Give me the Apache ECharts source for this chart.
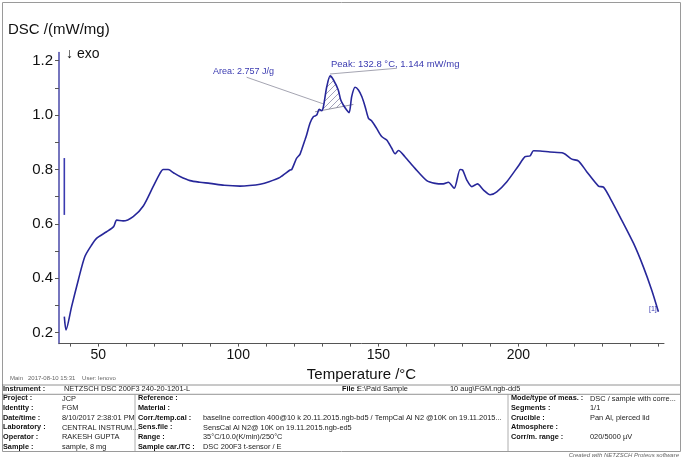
<!DOCTYPE html>
<html><head><meta charset="utf-8">
<script src="https://cdn.jsdelivr.net/npm/echarts@6/dist/echarts.min.js"></script>
<style>html,body{margin:0;padding:0;background:#fff}#c{width:683px;height:461px}</style>
</head><body><div id="c"></div>
<script>
// ---- data ----
const temperature = [37.9,38.5,40.5,42.9,45.2,47.5,49.4,53.0,55.5,56.6,58.9,62.5,66.1,69.6,72.0,73.2,75.0,77.0,79.2,82.8,86.3,89.9,95.0,100.6,104.0,107.8,111.0,114.9,118.5,119.1,120.3,120.8,122.0,122.6,123.8,124.4,125.6,126.8,128.0,128.9,129.8,130.4,131.6,132.8,134.0,135.7,136.6,137.5,138.7,139.6,140.5,141.7,142.9,144.1,145.3,146.5,147.6,149.4,151.2,153.0,154.8,156.0,157.2,159.5,163.1,167.3,170.3,173.2,175.0,177.1,179.2,180.1,181.6,183.4,185.4,187.5,189.9,192.3,195.9,200.0,202.4,204.2,205.4,207.8,211.3,216.1,219.1,221.5,224.4,228.6,230.4,232.8,236.3,241.1,244.6,247.6,250.0];
const dsc = [0.259,0.210,0.296,0.394,0.479,0.520,0.547,0.571,0.590,0.614,0.611,0.627,0.666,0.737,0.785,0.800,0.800,0.787,0.774,0.759,0.753,0.749,0.742,0.739,0.741,0.746,0.755,0.771,0.798,0.800,0.829,0.841,0.855,0.872,0.908,0.927,0.970,0.994,1.000,1.021,1.016,1.031,1.104,1.144,1.129,1.092,1.055,1.037,1.019,1.009,1.068,1.102,1.092,1.068,1.031,0.988,0.979,0.951,0.921,0.908,0.878,0.858,0.870,0.847,0.804,0.759,0.749,0.747,0.753,0.731,0.800,0.798,0.761,0.737,0.747,0.725,0.707,0.718,0.755,0.813,0.847,0.850,0.869,0.868,0.864,0.860,0.838,0.831,0.792,0.739,0.735,0.694,0.626,0.529,0.443,0.357,0.277];
const xTickLabels = [50,100,150,200];
const xMinorTicks = [40,50,60,70,80,90,100,110,120,130,140,150,160,170,180,190,200,210,220,230,240,250];
const yTickLabels = [0.2,0.4,0.6,0.8,1.0,1.2];
const yMinorTicks = [0.2,0.3,0.4,0.5,0.6,0.7,0.8,0.9,1.0,1.1,1.2];
const hatchRange = [130.1, 138.2];
const hatchBaseline = [[127.4,1.012],[141.1,1.039]];
const areaLeader = [[103.0,1.139],[130.4,1.041]];
const peakLeader = [[132.75,1.151],[156.6,1.172]];
const scaleBar = [[37.9,0.842],[37.9,0.633]];
const areaText = 'Area: 2.757 J/g';
const peakText = 'Peak: 132.8 °C, 1.144 mW/mg';

const curve = temperature.map((t,i)=>[t,dsc[i]]);

// hatch pattern
const pc = document.createElement('canvas'); pc.width = 6; pc.height = 6;
const pctx = pc.getContext('2d');
pctx.strokeStyle = '#8a8aa8'; pctx.lineWidth = 0.8;
pctx.beginPath(); pctx.moveTo(0,6); pctx.lineTo(6,0); pctx.moveTo(-1,1); pctx.lineTo(1,-1); pctx.moveTo(5,7); pctx.lineTo(7,5); pctx.stroke();

function baseAt(t){
  const [a,b] = hatchBaseline;
  return a[1] + (t-a[0])*(b[1]-a[1])/(b[0]-a[0]);
}

const F = 'Liberation Sans, Arial, sans-serif';
const chart = echarts.init(document.getElementById('c'), null, {renderer:'canvas'});

// table graphic
const tb = [];
function txt(x,y,s,opt){ tb.push({type:'text', left:x, top:y-4, style:Object.assign({text:s, font:'7.4px '+F, fill:'#222'}, opt||{})}); }
function bold(x,y,s){ txt(x,y-0.2,s,{font:'bold 7.3px '+F, fill:'#111'}); }
function hl(x1,x2,y){ tb.push({type:'line', shape:{x1:x1,y1:y,x2:x2,y2:y}, style:{stroke:'#777', lineWidth:0.8}}); }
function vl(x,y1,y2){ tb.push({type:'line', shape:{x1:x,y1:y1,x2:x,y2:y2}, style:{stroke:'#999', lineWidth:0.8}}); }
tb.push({type:'rect', shape:{x:2.5,y:2.5,width:678,height:449}, style:{fill:'none', stroke:'#9a9a9a', lineWidth:1}});
hl(2,680,385); hl(2,680,394.3);
vl(135,394.3,452); vl(508,394.3,452);
const rows = [399,408.7,418.3,428,437.6,447.2];
const L = ['Project :','Identity :','Date/time :','Laboratory :','Operator :','Sample :'];
const LV = ['JCP','FGM','8/10/2017 2:38:01 PM','CENTRAL INSTRUM...','RAKESH GUPTA','sample, 8 mg'];
const M = ['Reference :','Material :','Corr./temp.cal :','Sens.file :','Range :','Sample car./TC :'];
const MV = ['','','baseline correction 400@10 k 20.11.2015.ngb-bd5 / TempCal Al N2 @10K on 19.11.2015...','SensCal Al N2@ 10K on 19.11.2015.ngb-ed5','35°C/10.0(K/min)/250°C','DSC 200F3 t-sensor / E'];
const R = ['Mode/type of meas. :','Segments :','Crucible :','Atmosphere :','Corr/m. range :'];
const RV = ['DSC / sample with corre...','1/1','Pan Al, pierced lid','','020/5000 µV'];
txt(10,379,'Main   2017-08-10 15:31    User: lenovo',{font:'6px '+F, fill:'#666'});
bold(3,389.5,'Instrument :'); txt(64,389.5,'NETZSCH DSC 200F3 240-20-1201-L');
bold(342,389.5,'File :'); txt(357,389.5,'E:\\Paid Sample'); txt(450,389.5,'10 aug\\FGM.ngb-dd5');
rows.forEach((y,i)=>{
  bold(3,y,L[i]); txt(62,y,LV[i]);
  bold(138,y,M[i]); if (MV[i]) txt(203,y,MV[i]);
  if (i<5){ bold(511,y,R[i]); if (RV[i]) txt(590,y,RV[i]); }
});
tb.push({type:'text', right:4, top:452, style:{text:'Created with NETZSCH Proteus software', font:'italic 6px '+F, fill:'#666'}});

const option = {
  animation:false,
  backgroundColor:'#fff',
  grid:{left:59, right:19, top:52.5, bottom:117.4, containLabel:false},
  xAxis:{
    type:'value', min:36, max:252,
    name:'Temperature /°C', nameLocation:'middle', nameGap:18,
    nameTextStyle:{fontFamily:F, fontSize:15, color:'#111'},
    axisLine:{show:true, onZero:false, lineStyle:{color:'#555', width:1}},
    axisTick:{show:true, length:3, customValues:xMinorTicks, lineStyle:{color:'#555'}},
    axisLabel:{customValues:xTickLabels, fontFamily:F, fontSize:14, color:'#111', margin:5},
    splitLine:{show:false}
  },
  yAxis:{
    type:'value', min:0.16, max:1.23,
    axisLine:{show:true, onZero:false, lineStyle:{color:'#4848a8', width:1.5}},
    axisTick:{show:true, length:4, customValues:yMinorTicks, lineStyle:{color:'#555'}},
    axisLabel:{customValues:yTickLabels, formatter:v=>v.toFixed(1), fontFamily:F, fontSize:15, color:'#111', margin:6},
    splitLine:{show:false}
  },
  graphic:[
    {type:'text', left:8, top:22, style:{text:'DSC /(mW/mg)', font:'15px '+F, fill:'#111'}},
    {type:'text', left:66, top:47, style:{text:'↓ exo', font:'14px '+F, fill:'#111'}},
    {type:'text', left:213, top:67, style:{text:areaText, font:'9px '+F, fill:'#3a3ab0'}},
    {type:'text', left:331, top:59, style:{text:peakText, font:'9.5px '+F, fill:'#3a3ab0'}},
    {type:'text', left:649, top:306, style:{text:'[1]', font:'7px '+F, fill:'#3a3ab0'}}
  ].concat(tb),
  series:[
    {
      type:'custom', name:'annot', silent:true, z:1,
      data:[[130,1.0]],
      renderItem:function(params, api){
        const poly = [];
        const [hs,he] = hatchRange;
        poly.push(api.coord([hs, baseAt(hs)]));
        curve.forEach(p=>{ if (p[0]>hs && p[0]<he) poly.push(api.coord(p)); });
        poly.push(api.coord([he, baseAt(he)]));
        const seg = (s,c,w)=>({type:'line', shape:{x1:api.coord(s[0])[0], y1:api.coord(s[0])[1], x2:api.coord(s[1])[0], y2:api.coord(s[1])[1]}, style:{stroke:c, lineWidth:w}});
        return {type:'group', children:[
          {type:'polygon', shape:{points:poly}, style:{fill:{image:pc, repeat:'repeat'}, stroke:null}},
          seg(hatchBaseline,'#8a8a9a',0.9),
          seg(areaLeader,'#9a9aa8',0.9),
          seg(peakLeader,'#9a9aa8',0.9),
          seg(scaleBar,'#3a3ab0',1.6)
        ]};
      }
    },
    {
      type:'line', name:'DSC', data:curve, showSymbol:false, symbol:'none', smooth:0.25, z:3,
      lineStyle:{color:'#27279a', width:1.6}
    }
  ]
};
chart.setOption(option);
</script>
</body></html>
